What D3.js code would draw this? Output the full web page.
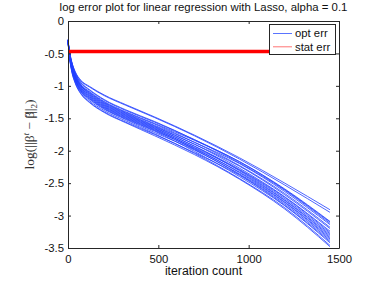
<!DOCTYPE html>
<html>
<head>
<meta charset="utf-8">
<script src="https://cdn.jsdelivr.net/npm/d3@7"></script>
<style>
  body { margin: 0; background: #fff; }
  text { font-family: "Liberation Sans", Arial, sans-serif; }
</style>
</head>
<body>
<div id="chart-area"></div>
<script>

var iters = [0, 4, 10, 20, 40, 70, 120, 200, 320, 480, 700, 950, 1200, 1450];

// opt err runs (log error at each knot)
var run1  = [-0.29,-0.39,-0.49,-0.62,-0.78,-0.91,-1.01,-1.14,-1.29,-1.48,-1.76,-2.11,-2.50,-2.91];
var run2  = [-0.29,-0.39,-0.50,-0.63,-0.79,-0.92,-1.02,-1.15,-1.30,-1.49,-1.77,-2.13,-2.53,-2.95];
var run3  = [-0.29,-0.39,-0.51,-0.64,-0.81,-0.95,-1.07,-1.22,-1.38,-1.56,-1.83,-2.17,-2.59,-3.09];
var run4  = [-0.29,-0.39,-0.50,-0.63,-0.80,-0.94,-1.06,-1.21,-1.37,-1.55,-1.83,-2.19,-2.61,-3.12];
var run5  = [-0.29,-0.40,-0.52,-0.65,-0.82,-0.97,-1.09,-1.24,-1.40,-1.58,-1.84,-2.17,-2.60,-3.10];
var run6  = [-0.29,-0.40,-0.52,-0.66,-0.83,-0.98,-1.10,-1.25,-1.41,-1.59,-1.87,-2.23,-2.66,-3.18];
var run7  = [-0.30,-0.41,-0.53,-0.67,-0.84,-0.99,-1.11,-1.26,-1.42,-1.61,-1.87,-2.20,-2.63,-3.14];
var run8  = [-0.30,-0.41,-0.53,-0.67,-0.85,-0.99,-1.12,-1.27,-1.43,-1.62,-1.90,-2.27,-2.71,-3.24];
var run9  = [-0.30,-0.41,-0.54,-0.68,-0.86,-1.00,-1.13,-1.28,-1.44,-1.63,-1.90,-2.24,-2.68,-3.20];
var run10 = [-0.30,-0.41,-0.54,-0.69,-0.86,-1.01,-1.14,-1.29,-1.45,-1.64,-1.93,-2.31,-2.76,-3.30];
var run11 = [-0.30,-0.42,-0.55,-0.69,-0.87,-1.02,-1.15,-1.30,-1.46,-1.65,-1.93,-2.29,-2.72,-3.26];
var run12 = [-0.30,-0.42,-0.55,-0.70,-0.88,-1.03,-1.16,-1.31,-1.47,-1.66,-1.96,-2.34,-2.79,-3.34];
var run13 = [-0.30,-0.42,-0.56,-0.71,-0.89,-1.04,-1.17,-1.32,-1.48,-1.67,-1.95,-2.30,-2.74,-3.28];
var run14 = [-0.30,-0.43,-0.56,-0.71,-0.90,-1.05,-1.18,-1.33,-1.49,-1.68,-1.98,-2.37,-2.82,-3.38];
var run15 = [-0.30,-0.43,-0.57,-0.72,-0.90,-1.06,-1.19,-1.34,-1.50,-1.69,-1.97,-2.33,-2.77,-3.32];
var run16 = [-0.30,-0.43,-0.57,-0.73,-0.91,-1.07,-1.20,-1.35,-1.51,-1.70,-2.01,-2.40,-2.85,-3.42];
var run17 = [-0.31,-0.44,-0.58,-0.74,-0.92,-1.08,-1.21,-1.36,-1.52,-1.72,-1.99,-2.36,-2.80,-3.36];
var run18 = [-0.31,-0.44,-0.59,-0.75,-0.94,-1.09,-1.23,-1.38,-1.54,-1.74,-2.04,-2.43,-2.88,-3.46];
var run19 = [-0.31,-0.45,-0.59,-0.76,-0.95,-1.11,-1.25,-1.40,-1.56,-1.75,-2.03,-2.38,-2.84,-3.40];
var run20 = [-0.31,-0.45,-0.60,-0.77,-0.96,-1.12,-1.26,-1.41,-1.57,-1.77,-2.06,-2.44,-2.90,-3.48];

// stat err (flat)
var statIters = [0, 1450];
var statErr = [-0.47, -0.47];

var xTicks = [0, 500, 1000, 1500];
var xTickLabels = ["0", "500", "1000", "1500"];
var yTicks = [0, -0.5, -1, -1.5, -2, -2.5, -3, -3.5];
var yTickLabels = ["0", "-0.5", "-1", "-1.5", "-2", "-2.5", "-3", "-3.5"];

var legendLabels = ["opt err", "stat err"];

var runs = [run1, run2, run3, run4, run5, run6, run7, run8, run9, run10,
            run11, run12, run13, run14, run15, run16, run17, run18, run19, run20];

var margin = {top: 21, right: 35, bottom: 33, left: 68},
    width = 374 - margin.left - margin.right,
    height = 281 - margin.top - margin.bottom;

var svg = d3.select("#chart-area")
    .append("svg")
        .attr("width", 374)
        .attr("height", 281);

svg.append("rect").attr("width", 374).attr("height", 281).attr("fill", "#fff");

var g = svg.append("g")
        .attr("transform", "translate(" + margin.left + "," + margin.top + ")");

var xScale = d3.scaleLinear().domain([0, 1500]).range([0, width]);
var yScale = d3.scaleLinear().domain([-3.5, 0]).range([height, 0]);

var line = d3.line()
    .x(function(d) { return xScale(d[0]); })
    .y(function(d) { return yScale(d[1]); })
    .curve(d3.curveMonotoneX);

// opt err curves
g.selectAll(".run")
    .data(runs)
    .enter()
    .append("path")
        .attr("class", "run")
        .attr("d", function(r) { return line(r.map(function(v, i) { return [iters[i], v]; })); })
        .attr("fill", "none")
        .attr("stroke", "#1f3dff")
        .attr("stroke-width", 0.8);

// stat err
g.append("path")
    .attr("d", line(statErr.map(function(v, i) { return [statIters[i], v]; })))
    .attr("fill", "none")
    .attr("stroke", "#ff0000")
    .attr("stroke-width", 3.5);

// axes (box with inward ticks)
var axisColor = "#262626";
function styleAxis(sel) {
    sel.selectAll("path, line").attr("stroke", axisColor);
    sel.selectAll("text").attr("fill", "#111").style("font-size", "11.3px")
        .style("font-family", '"Liberation Sans", Arial, sans-serif');
}

g.append("g")
    .attr("transform", "translate(0," + height + ")")
    .call(d3.axisBottom(xScale).tickValues(xTicks)
        .tickFormat(function(d, i) { return xTickLabels[i]; })
        .tickSizeInner(-3).tickSizeOuter(0).tickPadding(7))
    .call(styleAxis);

g.append("g")
    .call(d3.axisTop(xScale).tickValues(xTicks).tickFormat("")
        .tickSizeInner(-3).tickSizeOuter(0))
    .call(styleAxis);

g.append("g")
    .call(d3.axisLeft(yScale).tickValues(yTicks)
        .tickFormat(function(d, i) { return yTickLabels[i]; })
        .tickSizeInner(-3).tickSizeOuter(0).tickPadding(4))
    .call(styleAxis);

g.append("g")
    .attr("transform", "translate(" + width + ",0)")
    .call(d3.axisRight(yScale).tickValues(yTicks).tickFormat("")
        .tickSizeInner(-3).tickSizeOuter(0))
    .call(styleAxis);

g.selectAll(".domain").attr("fill", "none");

// title
svg.append("text")
    .attr("x", margin.left + width / 2)
    .attr("y", 11)
    .attr("text-anchor", "middle")
    .style("font-size", "11.4px")
    .attr("fill", "#111")
    .text("log error plot for linear regression with Lasso, alpha = 0.1");

// x label
svg.append("text")
    .attr("x", margin.left + width / 2)
    .attr("y", 275)
    .attr("text-anchor", "middle")
    .style("font-size", "12.3px")
    .attr("fill", "#111")
    .text("iteration count");

// y label (math)
var yl = svg.append("text")
    .attr("transform", "translate(34," + (margin.top + height / 2) + ") rotate(-90)")
    .attr("text-anchor", "middle")
    .style("font-family", '"Liberation Serif", "DejaVu Serif", serif')
    .style("font-size", "13.5px")
    .attr("fill", "#333");
yl.append("tspan").text("log(||β");
yl.append("tspan").attr("dy", -5).style("font-size", "9px").style("font-style", "italic").text("t");
yl.append("tspan").attr("dy", 5).text(" − β");
// hat over the second beta
yl.append("tspan").attr("dx", -6.2).attr("dy", -1.5).style("font-size", "10px").text("\u02C6");
yl.append("tspan").attr("dx", 0.6).attr("dy", 1.5).text("||");
yl.append("tspan").attr("dy", 3).style("font-size", "9px").text("2");
yl.append("tspan").attr("dy", -3).text(")");

// legend
var legend = svg.append("g");
legend.append("rect")
    .attr("x", 269.5).attr("y", 24.5)
    .attr("width", 66).attr("height", 30)
    .attr("fill", "#fff")
    .attr("stroke", axisColor)
    .attr("stroke-width", 1);

var legendColors = ["#3050ff", "#ff5050"];
legendLabels.forEach(function(lab, i) {
    var cy = 33.5 + i * 13.3;
    legend.append("line")
        .attr("x1", 273).attr("x2", 292)
        .attr("y1", cy).attr("y2", cy)
        .attr("stroke", legendColors[i])
        .attr("stroke-width", 0.8);
    legend.append("text")
        .attr("x", 295).attr("y", cy)
        .attr("dy", "0.35em")
        .style("font-size", "11.3px")
        .attr("fill", "#111")
        .text(lab);
});

</script>
</body>
</html>
